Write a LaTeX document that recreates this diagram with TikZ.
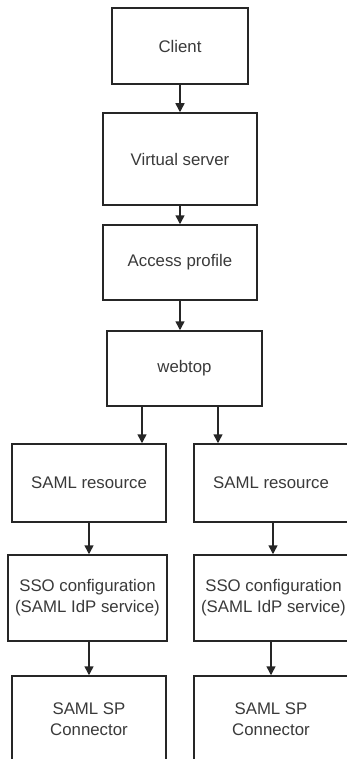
\documentclass[tikz,border=0pt]{standalone}
\usepackage{fontspec}
\setmainfont{Liberation Sans}
\usetikzlibrary{arrows.meta}
\definecolor{boxline}{HTML}{262626}
\definecolor{boxtext}{HTML}{3A3A3A}
\tikzset{
  box/.style={draw=boxline, line width=1.5pt, fill=white, align=center,
    text=boxtext, font=\fontsize{16.8}{21}\selectfont, inner sep=0pt},
  flow/.style={-{Triangle[length=9pt,width=9pt]}, line width=1.5pt, draw=boxline}
}
\begin{document}
\begin{tikzpicture}[x=1pt,y=-1pt]
  \useasboundingbox (0,0) rectangle (347,759);
  \clip (0,0) rectangle (347,759);
  \node[box, minimum width=136pt, minimum height=76pt] (client) at (180,46) {Client};
  \node[box, minimum width=154pt, minimum height=92pt] (vserver) at (180,159) {Virtual server};
  \node[box, minimum width=154pt, minimum height=75pt] (profile) at (180,262.5) {Access profile};
  \node[box, minimum width=155pt, minimum height=75pt] (webtop) at (184.5,368.5) {webtop};
  % left branch
  \node[box, minimum width=154pt, minimum height=78pt] (resL) at (89,483) {SAML resource};
  \node[box, minimum width=159pt, minimum height=86pt] (ssoL) at (87.5,598) {SSO configuration\\(SAML IdP service)};
  \node[box, minimum width=154pt, minimum height=86pt] (spL) at (89,719) {SAML SP\\Connector};
  % right branch
  \node[box, minimum width=154pt, minimum height=78pt] (resR) at (271,483) {SAML resource};
  \node[box, minimum width=159pt, minimum height=86pt] (ssoR) at (273.5,598) {SSO configuration\\(SAML IdP service)};
  \node[box, minimum width=154pt, minimum height=86pt] (spR) at (271,719) {SAML SP\\Connector};
  \draw[flow] (client.south) -- (vserver.north);
  \draw[flow] (vserver.south) -- (profile.north);
  \draw[flow] (profile.south) -- (profile.south |- webtop.north);
  \draw[flow] ([xshift=-42.5pt]webtop.south) -- ([xshift=-42.5pt]webtop.south |- resL.north);
  \draw[flow] ([xshift=33.5pt]webtop.south) -- ([xshift=33.5pt]webtop.south |- resR.north);
  \draw[flow] (resL.south) -- (resL.south |- ssoL.north);
  \draw[flow] ([xshift=2pt]resR.south) -- ([xshift=2pt]resR.south |- ssoR.north);
  \draw[flow] (resL.south |- ssoL.south) -- (spL.north);
  \draw[flow] (spR.north |- ssoR.south) -- (spR.north);
\end{tikzpicture}
\end{document}
